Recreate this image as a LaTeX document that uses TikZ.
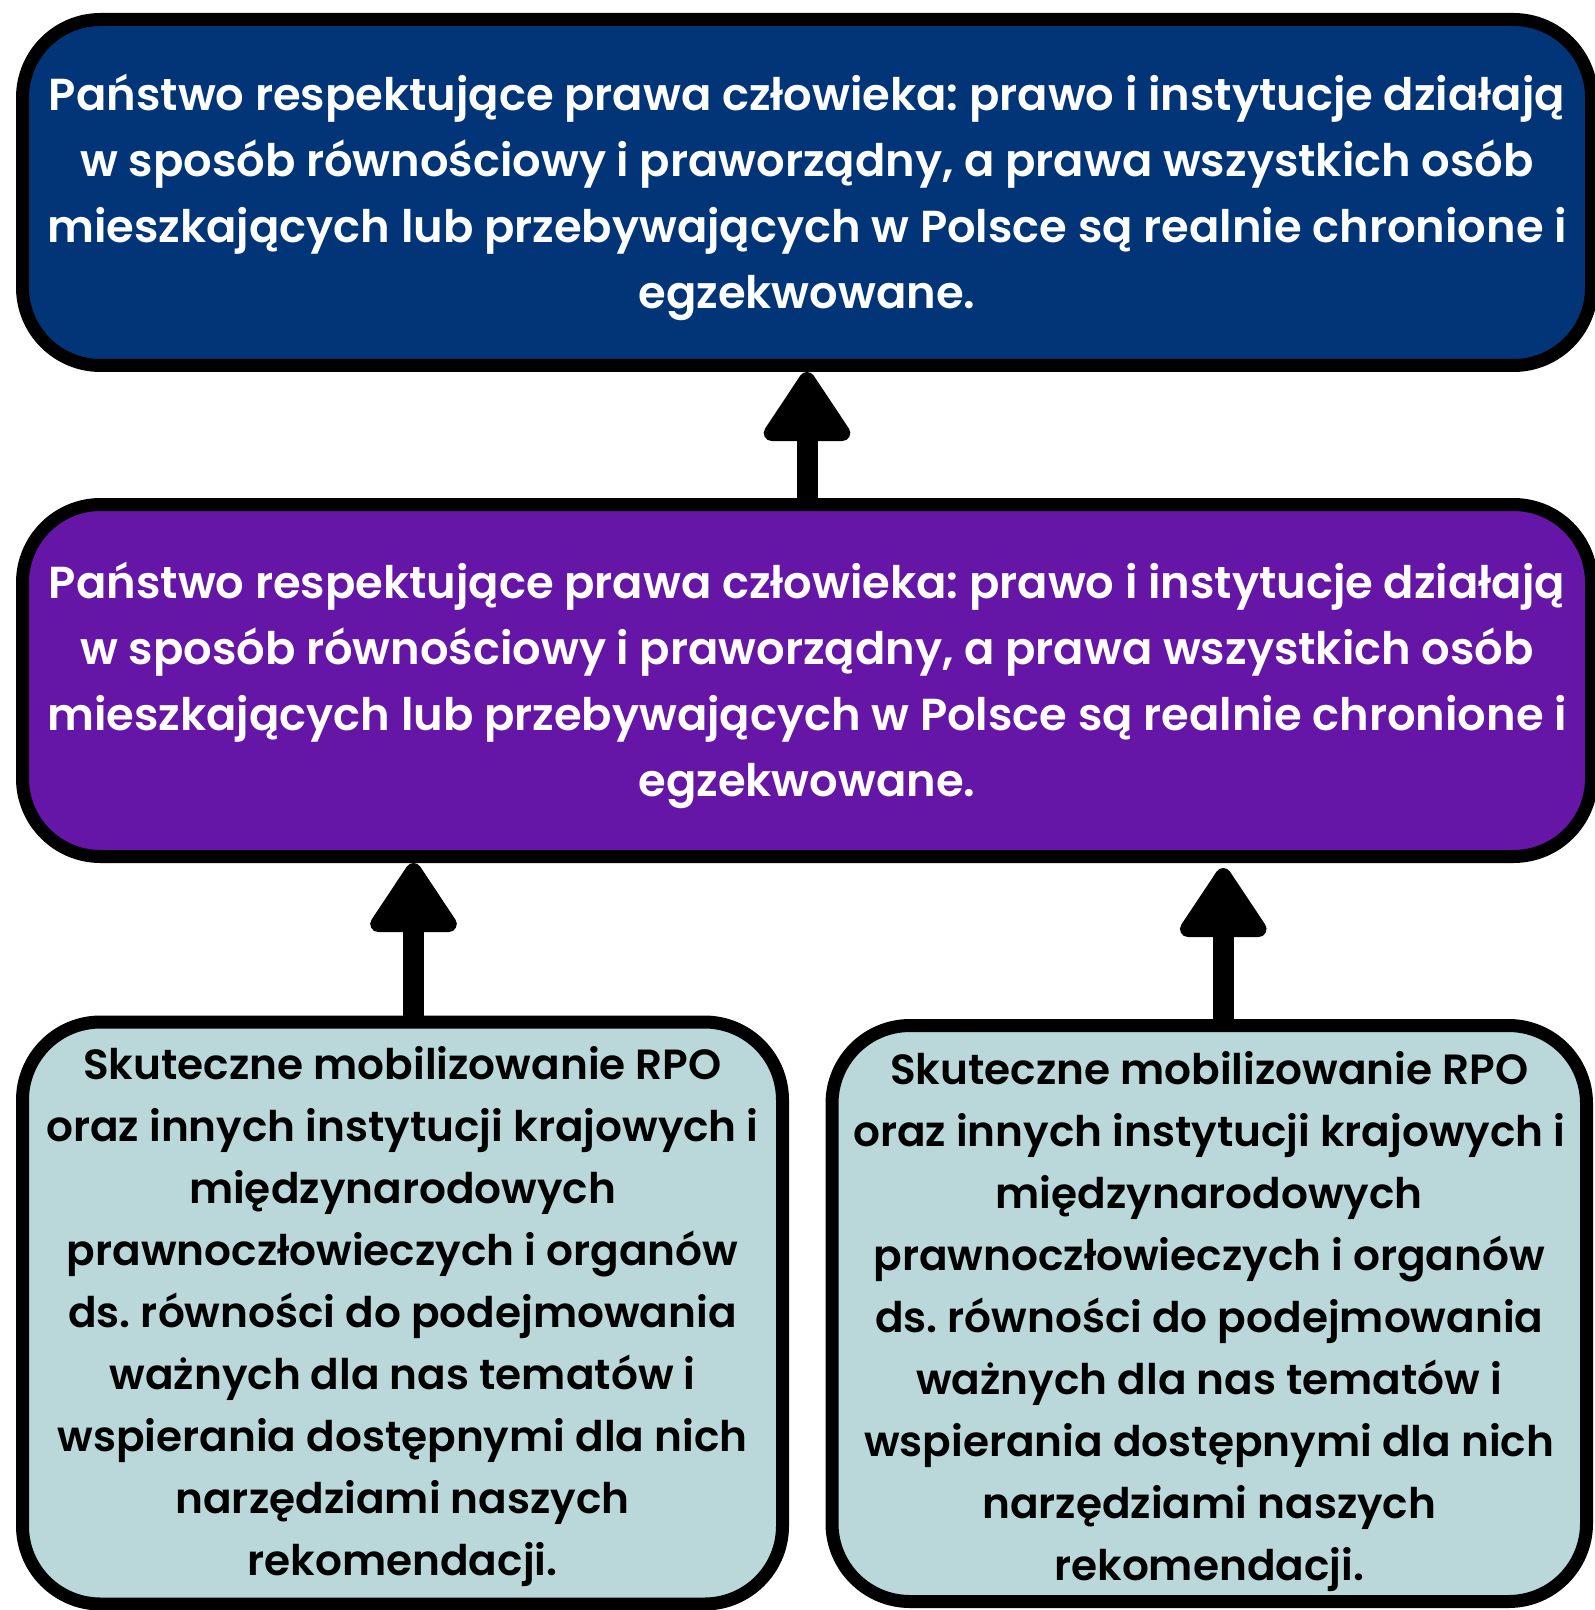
\documentclass[tikz,border=0pt]{standalone}
\usepackage{fontspec}
\setmainfont{Poppins}[BoldFont={Poppins SemiBold}]
\usetikzlibrary{arrows.meta}
\frenchspacing
\definecolor{topblue}{RGB}{2,53,120}
\definecolor{midpurple}{RGB}{102,22,166}
\definecolor{lightteal}{RGB}{186,216,217}
\tikzset{
  box/.style={draw=black, line width=6.5pt, rounded corners=39pt, inner sep=0pt},
  bigtext/.style={align=center, text=white, font=\frenchspacing\bfseries\fontsize{22.4}{33}\selectfont},
  smalltext/.style={align=center, text=black, font=\frenchspacing\bfseries\fontsize{21.1}{31}\selectfont},
  uparrow/.style={line width=10.5pt, -{Triangle[length=38pt,width=48pt,round,line width=8pt]}}
}
\begin{document}
\begin{tikzpicture}[x=0.5pt,y=-0.5pt]
\useasboundingbox (0,0) rectangle (1594,1610);
\node[box, fill=topblue, minimum width=784.5pt, minimum height=173pt] (top) at (807,192.5) {};
\node[box, fill=midpurple, minimum width=784.5pt, minimum height=176pt] (mid) at (807,680.5) {};
\node[box, fill=lightteal, minimum width=380pt, minimum height=291pt] (bl) at (402.5,1313) {};
\node[box, fill=lightteal, minimum width=377.25pt, minimum height=288pt] (br) at (1209.25,1313.5) {};
\node[bigtext, yshift=-2.5pt] (toptext) at (top.center)
 {Państwo respektujące prawa człowieka: prawo i instytucje działają\\
  w sposób równościowy i praworządny, a prawa wszystkich osób\\
  mieszkających lub przebywających w Polsce są realnie chronione i\\
  egzekwowane.};
\node[bigtext, yshift=-2.5pt] (midtext) at (mid.center)
 {Państwo respektujące prawa człowieka: prawo i instytucje działają\\
  w sposób równościowy i praworządny, a prawa wszystkich osób\\
  mieszkających lub przebywających w Polsce są realnie chronione i\\
  egzekwowane.};
\node[smalltext, yshift=-1.8pt] (bltext) at (bl.center)
 {Skuteczne mobilizowanie RPO\\
  oraz innych instytucji krajowych i\\
  międzynarodowych\\
  prawnoczłowieczych i organów\\
  ds. równości do podejmowania\\
  ważnych dla nas tematów i\\
  wspierania dostępnymi dla nich\\
  narzędziami naszych\\
  rekomendacji.};
\node[smalltext, yshift=-3.8pt] (brtext) at (br.center)
 {Skuteczne mobilizowanie RPO\\
  oraz innych instytucji krajowych i\\
  międzynarodowych\\
  prawnoczłowieczych i organów\\
  ds. równości do podejmowania\\
  ważnych dla nas tematów i\\
  wspierania dostępnymi dla nich\\
  narzędziami naszych\\
  rekomendacji.};
\draw[uparrow] (mid.north) -- (top.south);
\draw[uparrow] ([xshift=5.5pt]bl.north) -- ([xshift=5.5pt]bl.north |- mid.south);
\draw[uparrow, shorten >=2.5pt] ([xshift=7pt]br.north) -- ([xshift=7pt]br.north |- mid.south);
\end{tikzpicture}
\end{document}
